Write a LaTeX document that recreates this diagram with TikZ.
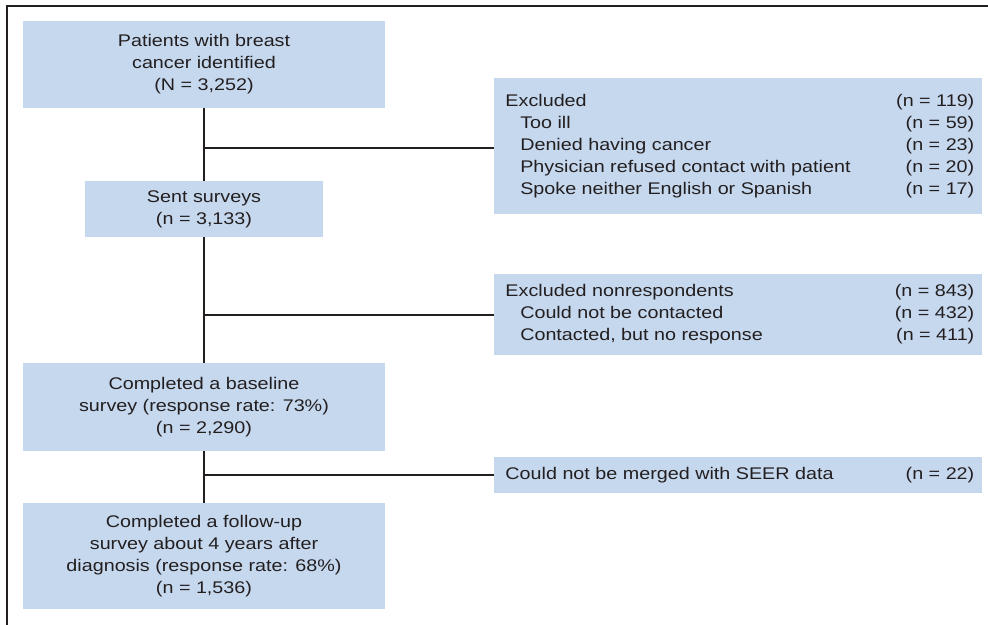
\documentclass[tikz,border=0pt]{standalone}
\usepackage{fontspec}
\setmainfont[FakeStretch=1.17]{Liberation Sans}
\definecolor{boxblue}{HTML}{C6D8EE}
\definecolor{inkdark}{HTML}{231F20}
\begin{document}
\begin{tikzpicture}[x=0.25mm, y=-0.25mm,
  font=\fontsize{12}{15.6}\selectfont, text=inkdark,
  flowbox/.style={fill=boxblue, inner sep=0pt, align=center, minimum width=90.5mm},
  sidebox/.style={fill=boxblue, inner sep=0pt, minimum width=122mm, minimum height=#1},
  trunk/.style={draw=inkdark, line width=0.6mm},
  frameline/.style={draw=inkdark, line width=0.4mm}]

\useasboundingbox (0,0) rectangle (988,625);
\draw[frameline] (7,625) -- (7,6) -- (988,6);

\node[flowbox, minimum height=21.75mm] (pat) at (204,64.5)
  {Patients with breast\\ cancer identified\\ (N = 3,252)};
\node[flowbox, minimum width=59.25mm, minimum height=14mm] (sent) at (204,209)
  {Sent surveys\\ (n = 3,133)};
\node[flowbox, minimum height=22mm] (base) at (204,407)
  {Completed a baseline\\ survey (response rate: 73\%)\\ (n = 2,290)};
\node[flowbox, minimum height=26.5mm] (follow) at (204,556)
  {Completed a follow-up\\ survey about 4 years after\\ diagnosis (response rate: 68\%)\\ (n = 1,536)};

\node[sidebox=34mm, anchor=west] (excl) at (494,146) {%
  \hspace{0.8mm}\begin{tabular*}{117.2mm}{@{}l@{\extracolsep{\fill}}r@{}}
  Excluded & (n = 119)\\
  \hspace{3.7mm}Too ill & (n = 59)\\
  \hspace{3.7mm}Denied having cancer & (n = 23)\\
  \hspace{3.7mm}Physician refused contact with patient & (n = 20)\\
  \hspace{3.7mm}Spoke neither English or Spanish & (n = 17)
  \end{tabular*}};
\node[sidebox=20.25mm, anchor=west] (nonresp) at (494,314.5) {%
  \hspace{0.8mm}\begin{tabular*}{117.2mm}{@{}l@{\extracolsep{\fill}}r@{}}
  Excluded nonrespondents & (n = 843)\\
  \hspace{3.7mm}Could not be contacted & (n = 432)\\
  \hspace{3.7mm}Contacted, but no response & (n = 411)
  \end{tabular*}};
\node[sidebox=9mm, anchor=west] (seer) at (494,475) {%
  \hspace{0.8mm}\begin{tabular*}{117.2mm}{@{}l@{\extracolsep{\fill}}r@{}}
  Could not be merged with SEER data & (n = 22)
  \end{tabular*}};

\coordinate (b1) at (204,148);
\coordinate (b2) at (204,315);
\coordinate (b3) at (204,475);

\draw[trunk] (pat.south) -- (sent.north);
\draw[trunk] (sent.south) -- (base.north);
\draw[trunk] (base.south) -- (follow.north);
\draw[trunk] (b1) -- (b1 -| excl.west);
\draw[trunk] (b2) -- (b2 -| nonresp.west);
\draw[trunk] (b3) -- (b3 -| seer.west);

\end{tikzpicture}
\end{document}
